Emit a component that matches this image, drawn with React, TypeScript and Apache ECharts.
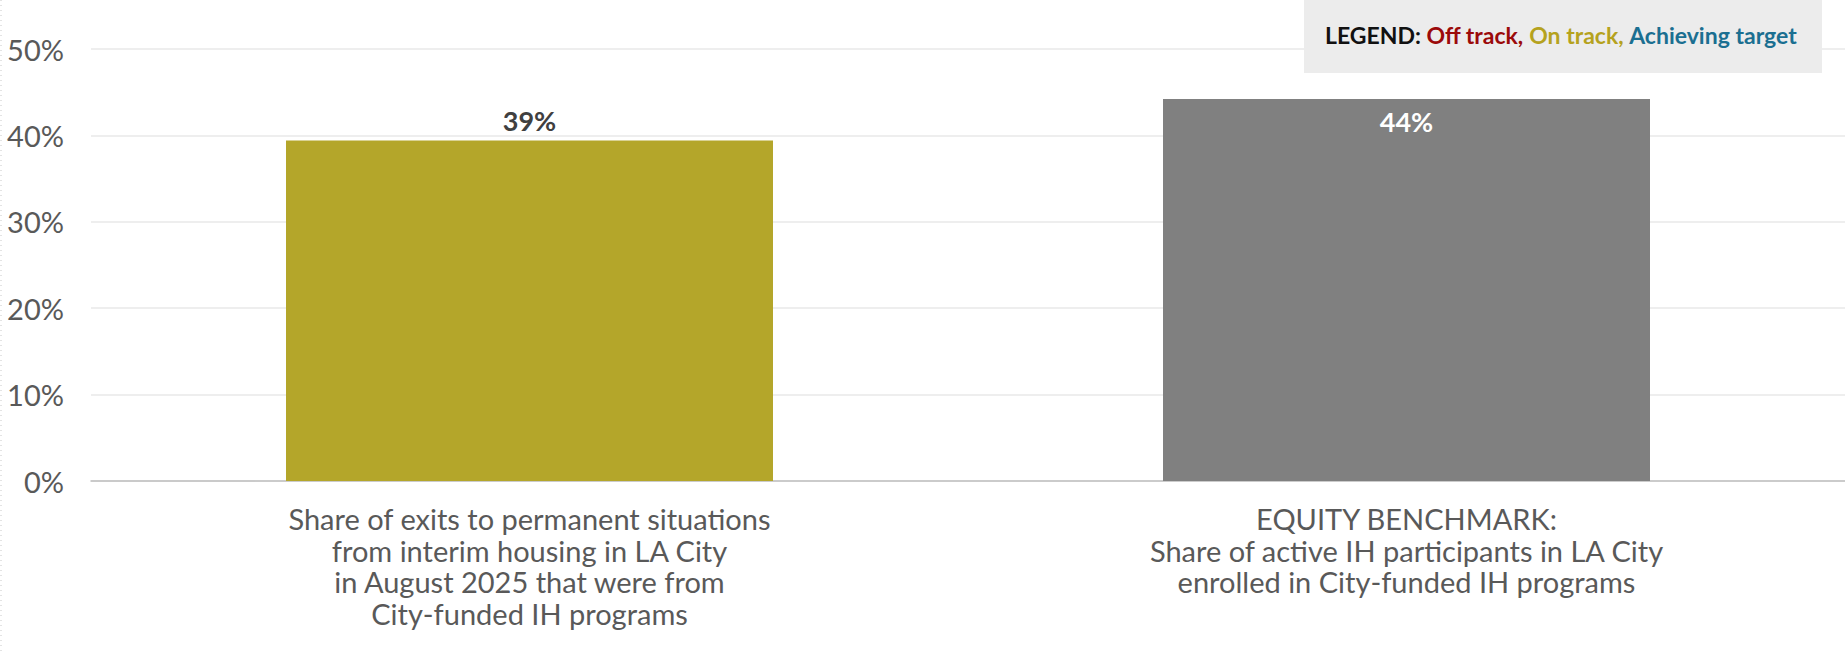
import React, { useEffect, useRef } from "react";
import * as echarts from "echarts";

const categories = [
  "Share of exits to permanent situations\nfrom interim housing in LA City\nin August 2025 that were from\nCity-funded IH programs",
  "EQUITY BENCHMARK:\nShare of active IH participants in LA City\nenrolled in City-funded IH programs",
];
const values = [39.4, 44.2];
const barColors = ["#b4a62a", "#808080"];
const labelColors = ["#404040", "#ffffff"];
const labelPositions = ["top", "insideTop"];
const yTicks = { min: 0, max: 50, interval: 10 };
const legendParts = [
  { key: "l", text: "LEGEND:", color: "#111111" },
  { key: "o", text: "Off track,", color: "#9b0a0a" },
  { key: "n", text: "On track,", color: "#b5a21e" },
  { key: "a", text: "Achieving target", color: "#1b6f91" },
];

const FONT = "Lato, 'Noto Sans', sans-serif";

export default function App() {
  const ref = useRef<HTMLDivElement>(null);
  useEffect(() => {
    document.body.style.margin = "0";
    const chart = echarts.init(ref.current!, null, { renderer: "svg" });
    const rich: any = {};
    legendParts.forEach((p) => {
      rich[p.key] = { fontFamily: FONT, fontWeight: "bold", fontSize: 23, fill: p.color, color: p.color };
    });
    chart.setOption({
      animation: false,
      backgroundColor: "#ffffff",
      grid: { left: 91, right: 0, top: 49, bottom: 173, containLabel: false },
      xAxis: {
        type: "category",
        data: categories,
        axisLine: { lineStyle: { color: "#bfbfbf", width: 1.5 } },
        axisTick: { show: false },
        axisLabel: {
          color: "#595959",
          fontFamily: FONT,
          fontSize: 29,
          lineHeight: 31.5,
          margin: 22,
          interval: 0,
        },
      },
      yAxis: {
        type: "value",
        min: yTicks.min,
        max: yTicks.max,
        interval: yTicks.interval,
        axisLabel: {
          formatter: "{value}%",
          color: "#595959",
          fontFamily: FONT,
          fontSize: 29,
          margin: 27,
        },
        axisLine: { show: false },
        axisTick: { show: false },
        splitLine: { lineStyle: { color: "#e8e8e8", width: 1.5 } },
      },
      series: [
        {
          type: "bar",
          barWidth: 487,
          data: values.map((v, i) => ({
            value: v,
            itemStyle: { color: barColors[i] },
            label: {
              show: true,
              position: labelPositions[i],
              distance: i === 0 ? 7 : 9,
              color: labelColors[i],
              fontFamily: FONT,
              fontWeight: "bold",
              fontSize: 27,
              formatter: (p: any) => Math.round(p.value) + "%",
            },
          })),
        },
      ],
      graphic: [
        {
          type: "line",
          shape: { x1: 1, y1: 0, x2: 1, y2: 654 },
          style: { stroke: "#c8c8c8", lineWidth: 1, lineDash: [1, 4] },
        },
        {
          type: "rect",
          shape: { x: 1304, y: 0, width: 518, height: 73 },
          style: { fill: "#ececec" },
          z: 10,
        },
        {
          type: "text",
          x: 1325,
          y: 35,
          z: 11,
          style: {
            text: legendParts.map((p) => `{${p.key}|${p.text}}`).join(" "),
            rich,
            font: `bold 23px ${FONT}`,
            verticalAlign: "middle",
            align: "left",
          },
        },
      ],
    });
    return () => chart.dispose();
  }, []);
  return <div ref={ref} style={{ width: 1845, height: 654 }} />;
}
